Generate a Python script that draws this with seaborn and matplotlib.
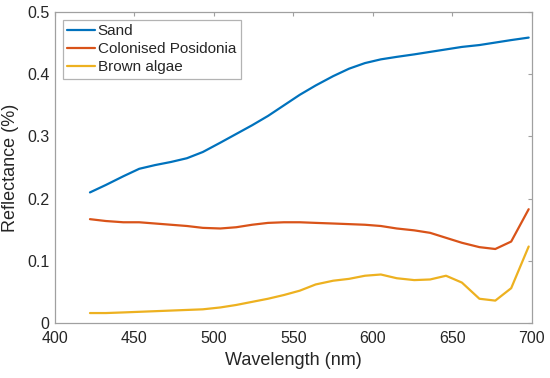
import pandas as pd
import matplotlib
matplotlib.use("Agg")
import matplotlib.pyplot as plt
from matplotlib.ticker import FuncFormatter
import seaborn as sns

# ---------------------------------------------------------
# Data
# ---------------------------------------------------------
wavelength = [422, 432, 443, 453, 463, 473, 483, 493, 504, 514,
              524, 534, 544, 554, 564, 575, 585, 595, 605, 615,
              626, 636, 646, 656, 667, 677, 687, 698]

sand = [0.210, 0.222, 0.236, 0.248, 0.254, 0.259, 0.265, 0.275, 0.290, 0.304,
        0.318, 0.333, 0.350, 0.367, 0.382, 0.397, 0.409, 0.418, 0.424, 0.428,
        0.432, 0.436, 0.440, 0.444, 0.447, 0.451, 0.455, 0.459]

posidonia = [0.167, 0.164, 0.162, 0.162, 0.160, 0.158, 0.156, 0.153, 0.152, 0.154,
             0.158, 0.161, 0.162, 0.162, 0.161, 0.160, 0.159, 0.158, 0.156, 0.152,
             0.149, 0.145, 0.137, 0.129, 0.122, 0.119, 0.131, 0.183]

algae = [0.016, 0.016, 0.017, 0.018, 0.019, 0.020, 0.021, 0.022, 0.025, 0.029,
         0.034, 0.039, 0.045, 0.052, 0.062, 0.068, 0.071, 0.076, 0.078, 0.072,
         0.069, 0.070, 0.076, 0.065, 0.039, 0.036, 0.056, 0.123]

labels = ["Sand", "Colonised Posidonia", "Brown algae"]
colors = ["#0072BD", "#D95319", "#EDB120"]

# ---------------------------------------------------------
# Long table for seaborn
# ---------------------------------------------------------
frames = []
for name, vals in zip(labels, [sand, posidonia, algae]):
    frames.append(pd.DataFrame({"Wavelength": wavelength, "Reflectance": vals, "Class": name}))
df = pd.concat(frames, ignore_index=True)

sns.set_theme(style="white")
plt.rcParams["font.family"] = ["Liberation Sans", "DejaVu Sans"]

fig = plt.figure(figsize=(5.5, 3.78), dpi=100)
ax = fig.add_axes([0.1, 0.1455, 0.867, 0.8225])

sns.lineplot(data=df, x="Wavelength", y="Reflectance", hue="Class",
             hue_order=labels, palette=colors, linewidth=1.6, ax=ax)

ax.set_xlim(400, 700)
ax.set_ylim(0, 0.5)
ax.set_xticks(range(400, 701, 50))
ax.set_yticks([0, 0.1, 0.2, 0.3, 0.4, 0.5])
ax.yaxis.set_major_formatter(FuncFormatter(lambda v, p: f"{v:g}"))
ax.tick_params(direction="in", length=3, width=0.8, color="#a0a0a0",
               labelsize=11.5, labelcolor="#262626", top=True, right=True)
ax.tick_params(axis="x", pad=6)
ax.tick_params(axis="y", pad=4)

for sp in ax.spines.values():
    sp.set_color("#a0a0a0")
    sp.set_linewidth(0.9)

ax.set_xlabel("Wavelength (nm)", fontsize=13, color="#262626", labelpad=4)
ax.set_ylabel("Reflectance (%)", fontsize=13, color="#262626", labelpad=6)

handles, lbls = ax.get_legend_handles_labels()
leg = ax.legend(handles, lbls, loc="upper left", fontsize=11, frameon=True,
                fancybox=False, edgecolor="#a0a0a0", borderaxespad=0.5,
                handlelength=1.8, handletextpad=0.2, labelspacing=0.25,
                borderpad=0.3)
leg.get_frame().set_linewidth(0.9)
for t in leg.get_texts():
    t.set_color("#262626")

fig.savefig("out.png", dpi=100)
